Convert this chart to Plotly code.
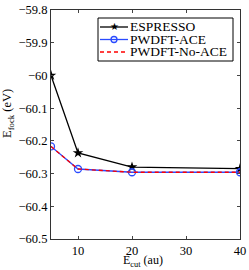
import plotly.graph_objects as go

ecut = [5, 10, 20, 40]
espresso = [-60.0, -60.237, -60.280, -60.285]
pwdft_ace = [-60.217, -60.286, -60.296, -60.296]
pwdft_noace = [-60.217, -60.286, -60.296, -60.296]
series_names = ["ESPRESSO", "PWDFT-ACE", "PWDFT-No-ACE"]

yticks = [-59.8, -59.9, -60.0, -60.1, -60.2, -60.3, -60.4, -60.5]
ytext = ["\u221259.8", "\u221259.9", "\u221260", "\u221260.1", "\u221260.2", "\u221260.3", "\u221260.4", "\u221260.5"]
xticks = [10, 20, 30, 40]

W, H = 249, 270
L, R, T, B = 51, 9, 10, 31
PW, PH = W - L - R, H - T - B

def px(x):
    return (x - L) / PW

def py(y):
    return (H - B - y) / PH

font = "Liberation Serif"
FS = 12.5
BLACK, BLUE, RED = "black", "#2a4bff", "#ff0000"

fig = go.Figure()
fig.add_trace(go.Scatter(x=ecut, y=espresso, name=series_names[0], mode="lines+markers",
                         line=dict(color=BLACK, width=1.3),
                         marker=dict(symbol="star", size=8, color=BLACK)))
fig.add_trace(go.Scatter(x=ecut, y=pwdft_ace, name=series_names[1], mode="lines+markers",
                         line=dict(color=BLUE, width=1.3),
                         marker=dict(symbol="circle-open", size=7, color=BLUE, line=dict(width=1.3))))
fig.add_trace(go.Scatter(x=ecut, y=pwdft_noace, name=series_names[2], mode="lines",
                         line=dict(color=RED, width=1.3, dash="4px,3px")))

# manual legend (compact, like the reference)
shapes = [dict(type="rect", xref="paper", yref="paper", x0=px(98), x1=px(233), y0=py(61), y1=py(18),
               line=dict(color="black", width=1), fillcolor="white", layer="above")]
annotations = []
rows = [27, 39.5, 52]
styles = [(BLACK, "solid"), (BLUE, "solid"), (RED, "4px,3px")]
for name, yr, (col, dash) in zip(series_names, rows, styles):
    shapes.append(dict(type="line", xref="paper", yref="paper", x0=px(100), x1=px(128),
                       y0=py(yr), y1=py(yr), line=dict(color=col, width=1.3, dash=dash), layer="above"))
    annotations.append(dict(text=name, xref="paper", yref="paper", x=px(129), y=py(yr),
                            xanchor="left", yanchor="middle", showarrow=False, borderpad=0,
                            font=dict(family=font, size=13.5, color="black")))
annotations.append(dict(text="\u2605", xref="paper", yref="paper", x=px(114), y=py(rows[0]),
                        xanchor="center", yanchor="middle", showarrow=False,
                        font=dict(family="DejaVu Sans", size=10, color=BLACK)))
shapes.append(dict(type="circle", xref="paper", yref="paper", xsizemode="pixel", ysizemode="pixel",
                   xanchor=px(114), yanchor=py(rows[1]), x0=-3, x1=3, y0=-3, y1=3,
                   line=dict(color=BLUE, width=1.3), fillcolor="rgba(0,0,0,0)", layer="above"))

annotations += [
    dict(text="E<sub>cut</sub> (au)", xref="paper", yref="paper", x=px(143), y=py(270),
         xanchor="center", yanchor="bottom", showarrow=False, borderpad=0,
         font=dict(family=font, size=12)),
    dict(text="E<sub>fock</sub> (eV)", xref="paper", yref="paper", x=px(8), y=py(114),
         xanchor="center", yanchor="middle", textangle=-90, showarrow=False,
         font=dict(family=font, size=FS)),
]

fig.update_layout(
    width=W, height=H,
    margin=dict(l=L, r=R, t=T, b=B),
    paper_bgcolor="white", plot_bgcolor="white",
    font=dict(family=font, size=FS, color="black"),
    showlegend=False,
    xaxis=dict(range=[5, 40], tickvals=xticks, ticks="inside", ticklen=3,
               showline=True, linecolor="#333", linewidth=1, mirror="ticks",
               showgrid=False, zeroline=False, automargin=False,
               tickfont=dict(family=font, size=FS)),
    yaxis=dict(range=[-60.5, -59.8], tickvals=yticks, ticktext=ytext, ticks="inside", ticklen=3,
               showline=True, linecolor="#333", linewidth=1, mirror="ticks",
               showgrid=False, zeroline=False, automargin=False,
               tickfont=dict(family=font, size=FS)),
    shapes=shapes,
    annotations=annotations,
)
fig.write_html("out.html", config={"displayModeBar": False},
               post_script="document.body.style.margin='0';document.body.style.padding='0';")
